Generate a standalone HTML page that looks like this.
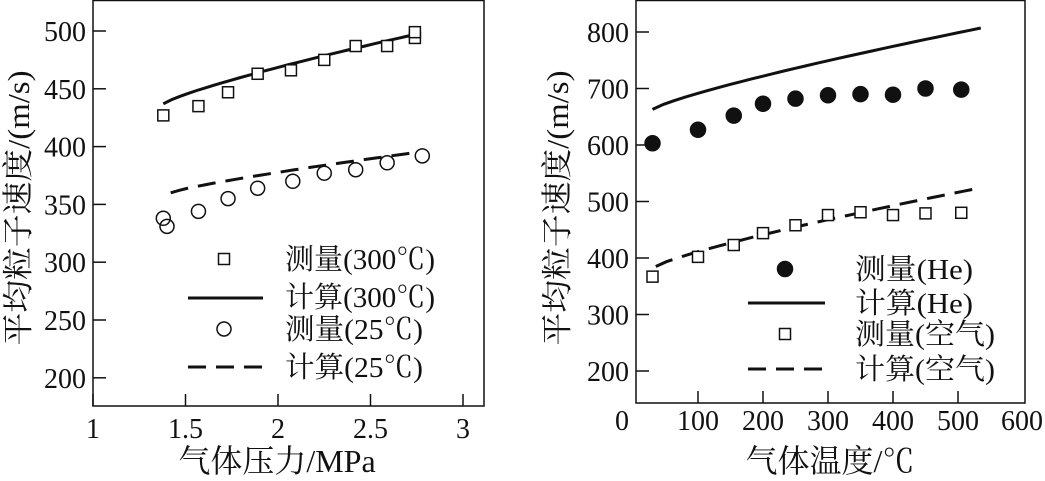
<!DOCTYPE html>
<html><head><meta charset="utf-8"><style>
body{margin:0;background:#fff;width:1045px;height:476px;overflow:hidden}
text{font-family:"Liberation Serif","Noto Serif CJK SC",serif;fill:#111}
</style></head><body>
<svg id="s" width="1045" height="476" xmlns="http://www.w3.org/2000/svg"></svg>
<script>
const s=document.getElementById('s');let h='';
function T(x,y,t,sz,anc,extra){h+=`<text x="${x}" y="${y}" font-size="${sz}" text-anchor="${anc||'middle'}" ${extra||''}>${t}</text>`;}
const TS=28, LS=29;
// LEFT
const LX=p=>93+(p-1)*185, LY=v=>31+(500-v)*1.156;
h+=`<rect x="93" y="0.5" width="391" height="405.5" fill="none" stroke="#111" stroke-width="1.5"/>`;
for(let v=200;v<=500;v+=50){h+=`<line x1="93" x2="106" y1="${LY(v)}" y2="${LY(v)}" stroke="#111" stroke-width="1.5"/>`;T(86,LY(v)+10,v,TS,'end');}
[1,1.5,2,2.5,3].forEach(p=>{h+=`<line x1="${LX(p)}" x2="${LX(p)}" y1="406" y2="394" stroke="#111" stroke-width="1.5"/>`;T(LX(p),438,p,TS);});
T(277,472,'气体压力/MPa',32);
T(0,0,'平均粒子速度/(m/s)',31,'middle','transform="translate(29,208) rotate(-90)" textLength="275" lengthAdjust="spacingAndGlyphs"');
function curve(X,Y,a,b,x0,x1,dash){let d='';for(let i=0;i<=30;i++){let x=x0+(x1-x0)*i/30;let y=a+(b-a)*Math.pow(i/30,0.82);d+=(i?'L':'M')+X(x).toFixed(1)+','+Y(y).toFixed(1);}h+=`<path d="${d}" fill="none" stroke="#111" stroke-width="3" ${dash?'stroke-dasharray="18,10"':''}/>`;}
curve(LX,LY,437,497,1.38,2.74);
curve(LX,LY,360,395,1.42,2.75,1);
function sq(x,y,r){h+=`<rect x="${x-r}" y="${y-r}" width="${2*r}" height="${2*r}" fill="#fff" stroke="#111" stroke-width="1.5"/>`;}
function ci(x,y,r,f){h+=`<circle cx="${x}" cy="${y}" r="${r}" fill="${f?'#111':'none'}" stroke="#111" stroke-width="1.5"/>`;}
[[1.38,427],[1.57,435],[1.73,447],[1.89,463],[2.07,466],[2.25,475],[2.42,487],[2.59,487],[2.74,494],[2.74,499]].forEach(d=>sq(LX(d[0]),LY(d[1]),5.5));
[[1.38,338],[1.40,331],[1.57,344],[1.73,355],[1.89,364],[2.08,370],[2.25,377],[2.42,380],[2.59,386],[2.78,392]].forEach(d=>ci(LX(d[0]),LY(d[1]),7));
sq(224,259,5.5);T(285,269,'测量(300℃)',LS,'start','textLength="150" lengthAdjust="spacingAndGlyphs"');
h+=`<line x1="188" x2="263" y1="298" y2="298" stroke="#111" stroke-width="3"/>`;T(285,307,'计算(300℃)',LS,'start','textLength="150" lengthAdjust="spacingAndGlyphs"');
ci(224,329,7);T(285,339,'测量(25℃)',LS,'start','textLength="138" lengthAdjust="spacingAndGlyphs"');
h+=`<line x1="188" x2="263" y1="367" y2="367" stroke="#111" stroke-width="3" stroke-dasharray="18,10"/>`;T(285,377,'计算(25℃)',LS,'start','textLength="138" lengthAdjust="spacingAndGlyphs"');
// RIGHT
const RX=t=>633+t*0.65, RY=v=>32+(800-v)*0.565;
h+=`<rect x="636" y="0.5" width="389" height="402.5" fill="none" stroke="#111" stroke-width="1.5"/>`;
for(let v=200;v<=800;v+=100){h+=`<line x1="636" x2="649" y1="${RY(v)}" y2="${RY(v)}" stroke="#111" stroke-width="1.5"/>`;T(629,RY(v)+10,v,TS,'end');}
[0,100,200,300,400,500,600].forEach(t=>{if(t>0&&t<600)h+=`<line x1="${RX(t)}" x2="${RX(t)}" y1="403" y2="391" stroke="#111" stroke-width="1.5"/>`;T(t==0?622:t==600?1022:RX(t),430,t,TS);});
T(830,472,'气体温度/℃',32);
T(0,0,'平均粒子速度/(m/s)',31,'middle','transform="translate(568,208) rotate(-90)" textLength="275" lengthAdjust="spacingAndGlyphs"');
curve(RX,RY,663,807,30,535);
curve(RX,RY,385,522,35,525,1);
[[30,603],[100,627],[155,652],[200,673],[250,682],[300,688],[350,690],[400,689],[450,700],[505,698]].forEach(d=>ci(RX(d[0]),RY(d[1]),7.5,1));
[[30,367],[100,402],[155,423],[200,444],[250,458],[300,476],[350,481],[400,476],[450,479],[505,480]].forEach(d=>sq(RX(d[0]),RY(d[1]),5.5));
ci(785,269,7.5,1);T(855,279,'测量(He)',LS,'start','textLength="118" lengthAdjust="spacingAndGlyphs"');
h+=`<line x1="748" x2="825" y1="303" y2="303" stroke="#111" stroke-width="3"/>`;T(855,313,'计算(He)',LS,'start','textLength="118" lengthAdjust="spacingAndGlyphs"');
sq(785,334,5.5);T(855,344,'测量(空气)',LS,'start','textLength="140" lengthAdjust="spacingAndGlyphs"');
h+=`<line x1="748" x2="825" y1="369" y2="369" stroke="#111" stroke-width="3" stroke-dasharray="18,10"/>`;T(855,379,'计算(空气)',LS,'start','textLength="140" lengthAdjust="spacingAndGlyphs"');
s.innerHTML=h;
</script>
</body></html>
